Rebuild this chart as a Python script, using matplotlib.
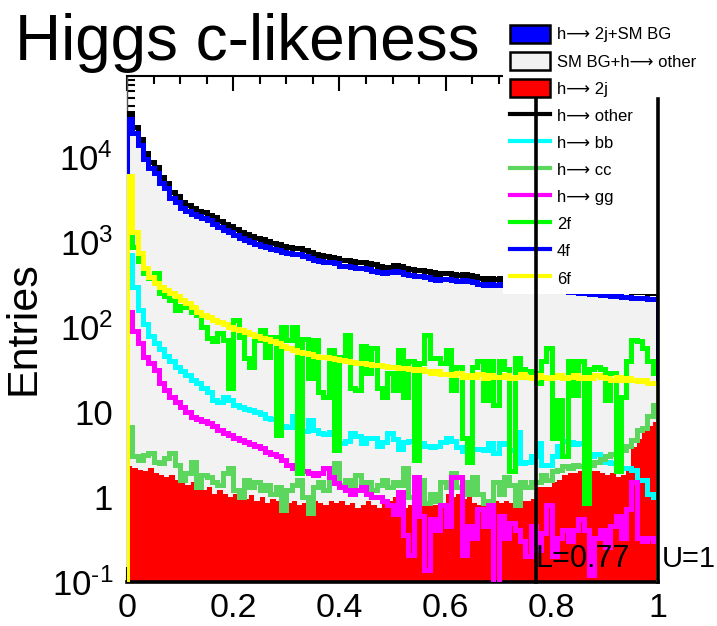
import numpy as np
import matplotlib
matplotlib.use("Agg")
import matplotlib.pyplot as plt
import matplotlib.transforms as mtransforms
from matplotlib.patches import Patch
from matplotlib.lines import Line2D
from matplotlib.ticker import LogLocator, MultipleLocator, NullFormatter

plt.rcParams['font.family'] = ['Liberation Sans', 'DejaVu Sans']
plt.rcParams['mathtext.fontset'] = 'custom'
plt.rcParams['mathtext.rm'] = 'Liberation Sans'

# ---------------------------------------------------------------------
# data: 100 bins of c-likeness in [0, 1], entries per bin
# ---------------------------------------------------------------------
n_bins = 100
cut_low, cut_high = 0.77, 1.0

# h -> 2j + SM BG (blue), 4f dominates it so its line sits on top of this
total = [28000, 19000, 14000, 9500, 7500, 6500, 5000, 4300, 3300, 3000,
         2500, 2300, 2150, 2000, 1900, 1800, 1650, 1500, 1380, 1300,
         1200, 1120, 1050, 1000, 950, 910, 870, 830, 800, 770,
         750, 730, 720, 690, 650, 620, 600, 590, 580, 570,
         530, 520, 510, 500, 490, 480, 460, 450, 430, 440,
         460, 450, 420, 410, 400, 395, 390, 370, 360, 365,
         370, 360, 350, 355, 345, 335, 320, 315, 320, 315,
         320, 310, 305, 300, 298, 295, 290, 285, 282, 280,
         275, 270, 266, 262, 258, 255, 250, 246, 243, 240,
         237, 234, 231, 228, 225, 222, 220, 218, 215, 212]

h_other = [33000, 22500, 16500, 11200, 8800, 7600, 5900, 5000, 3900, 3500,
           2950, 2700, 2500, 2350, 2250, 2100, 1950, 1780, 1620, 1530,
           1420, 1320, 1240, 1190, 1110, 1080, 1020, 980, 950, 900,
           880, 860, 850, 800, 770, 730, 710, 690, 670, 650,
           620, 615, 600, 590, 580, 560, 545, 530, 510, 515,
           540, 530, 500, 480, 475, 465, 455, 440, 425, 430,
           435, 425, 410, 420, 405, 395, 380, 370, 375, 370,
           375, 365, 360, 355, 350, 345, 340, 335, 332, 330,
           325, 318, 313, 308, 304, 300, 295, 290, 286, 283,
           280, 276, 272, 268, 265, 262, 260, 257, 254, 260]

h_2j = [2.3, 2.2, 2.1, 2.0, 2.2, 1.9, 1.8, 1.7, 1.8, 1.6,
        1.5, 1.4, 1.5, 1.3, 1.2, 1.3, 1.1, 1.2, 1.1, 1.0,
        1.1, 1.0, 0.95, 1.05, 0.9, 1.0, 0.85, 0.95, 0.9, 0.8,
        0.85, 0.9, 0.8, 0.85, 0.8, 0.9, 0.85, 0.8, 0.9, 0.85,
        0.9, 0.8, 0.85, 0.75, 0.8, 0.9, 0.8, 0.75, 0.85, 0.9,
        1.0, 1.1, 0.75, 0.8, 0.85, 0.8, 0.85, 0.8, 0.8, 0.85,
        1.1, 1.0, 1.1, 0.95, 1.0, 0.85, 0.8, 0.9, 0.85, 0.9,
        0.85, 0.9, 0.85, 0.9, 0.9, 0.9, 0.95, 1.3, 1.3, 1.3,
        1.5, 1.6, 1.8, 1.9, 1.9, 2.0, 2.1, 2.0, 2.0, 1.9,
        1.8, 1.9, 1.7, 1.8, 2.2, 3.9, 4.8, 6.1, 6.8, 7.6]

h_bb = [700, 300, 160, 110, 78, 65, 55, 46, 40, 34,
        30, 27, 24, 22, 19, 17, 14, 13, 15, 14,
        12, 11.5, 11, 10.5, 10, 9.5, 8.5, 8.2, 7.6, 6.8,
        6.6, 9.0, 6.9, 6.0, 8.0, 6.2, 5.6, 5.5, 5.8, 6.4,
        4.3, 4.6, 5.6, 5.2, 4.3, 5.0, 5.0, 4.0, 4.4, 5.6,
        4.8, 3.7, 4.4, 4.6, 4.3, 4.3, 4.0, 3.9, 4.0, 4.5,
        5.0, 4.6, 3.9, 3.5, 2.7, 3.7, 3.7, 3.6, 4.3, 3.3,
        4.3, 4.2, 3.6, 5.8, 2.5, 2.6, 3.0, 4.3, 2.4, 2.4,
        3.0, 4.0, 4.6, 4.5, 4.2, 4.3, 3.3, 3.0, 3.2, 2.8,
        2.6, 2.5, 2.7, 2.2, 2.2, 2.1, 1.6, 1.6, 1.1, 1.0]

h_cc = [6.6, 3.0, 2.7, 3.1, 3.3, 2.6, 2.5, 2.9, 3.3, 2.4,
        1.6, 1.9, 2.6, 1.3, 1.8, 1.7, 1.5, 1.4, 1.9, 2.2,
        1.2, 1.0, 1.6, 1.3, 1.5, 1.2, 1.4, 1.1, 1.3, 0.7,
        1.2, 1.4, 1.6, 1.0, 0.65, 1.3, 1.5, 1.2, 1.7, 2.5,
        1.4, 1.6, 1.1, 1.8, 1.3, 1.5, 1.2, 1.4, 1.6, 1.3,
        1.5, 1.4, 2.2, 1.0, 0.8, 1.6, 0.85, 1.1, 0.9, 1.5,
        1.3, 1.9, 1.3, 1.5, 1.1, 1.7, 1.1, 0.85, 0.9, 1.5,
        1.1, 1.7, 1.4, 0.8, 1.5, 1.3, 1.5, 1.5, 1.8, 1.6,
        2.0, 2.1, 2.3, 2.2, 2.4, 2.3, 2.5, 2.4, 2.6, 2.8,
        3.0, 3.2, 3.4, 3.6, 4.0, 4.7, 6.1, 6.5, 9.0, 12]

# empty bins are written as 0.05 (below the axis)
h_gg = [150, 90, 65, 45, 38, 31, 22, 18, 15, 13,
        11.5, 10, 8.7, 8.2, 7.8, 7.4, 6.8, 6.2, 5.6, 5.4,
        5.0, 4.7, 4.4, 4.2, 4.0, 3.8, 3.4, 3.2, 3.0, 2.7,
        2.4, 2.2, 2.1, 2.0, 1.9, 1.8, 1.9, 2.2, 1.7, 1.45,
        1.3, 1.2, 1.1, 1.2, 1.3, 1.1, 1.0, 1.0, 0.9, 0.8,
        0.63, 1.14, 0.36, 0.21, 1.7, 0.6, 0.14, 0.55, 0.41, 0.8,
        0.45, 1.7, 1.7, 0.21, 0.45, 0.33, 0.72, 0.45, 0.8, 0.05,
        0.6, 0.33, 0.5, 0.41, 0.3, 0.2, 0.45, 0.24, 0.38, 0.8,
        0.2, 0.33, 0.41, 0.3, 0.41, 0.55, 0.41, 0.12, 0.33, 0.41,
        0.26, 0.45, 0.6, 0.33, 0.72, 1.5, 0.33, 0.3, 0.33, 0.3]

bg_2f = [1300, 870, 600, 430, 380, 430, 250, 230, 210, 160,
         175, 170, 150, 140, 100, 75, 68, 85, 70, 19,
         120, 76, 43, 34, 70, 92, 44, 76, 5.3, 100,
         70, 100, 1.9, 72, 25, 70, 17, 15, 53, 3.6,
         44, 80, 19, 18, 60, 29, 56, 19, 15, 29,
         18, 53, 15, 40, 2.7, 38, 80, 43, 43, 38,
         53, 18, 34, 5.0, 2.6, 34, 40, 14, 40, 12,
         40, 32, 2.0, 43, 32, 30, 29, 22, 40, 56,
         5.0, 14, 3.0, 40, 16, 40, 0.85, 32, 34, 32,
         14, 29, 2.0, 15, 40, 70, 68, 56, 40, 29]

bg_6f = [6000, 1300, 740, 500, 390, 330, 295, 270, 250, 230,
         210, 190, 170, 150, 140, 130, 122, 115, 110, 100,
         95, 92, 88, 82, 78, 75, 72, 68, 65, 60,
         56, 53, 51, 50, 48, 46, 45, 44, 43, 42,
         41, 40, 39, 38, 38, 37, 36, 36, 35, 34,
         34, 33, 33, 32, 31, 32, 30, 29, 30, 28,
         28, 27, 29, 26, 27, 26, 28, 25, 27, 26,
         26, 27, 25, 26, 28, 26, 25, 27, 26, 25,
         26, 27, 25, 26, 27, 25, 26, 25, 27, 26,
         25, 24, 26, 24, 25, 24, 23, 24, 22, 22]

y_ticks = [0.1, 1, 10, 100, 1e3, 1e4]
y_tick_labels = [r'$\mathregular{10^{\text{-}1}}$', '1', '10',
                 r'$\mathregular{10^{2}}$', r'$\mathregular{10^{3}}$',
                 r'$\mathregular{10^{4}}$']
x_ticks = [0, 0.2, 0.4, 0.6, 0.8, 1.0]
x_tick_labels = ['0', '0.2', '0.4', '0.6', '0.8', '1']

# ---------------------------------------------------------------------
# plot
# ---------------------------------------------------------------------
W, H = 717, 626
fig = plt.figure(figsize=(W / 100, H / 100), dpi=100)
ax = fig.add_axes([127 / W, 44 / H, 531 / W, 506 / H])

edges = np.linspace(0, 1, n_bins + 1)
total = np.array(total, dtype=float)
h_2j = np.array(h_2j, dtype=float)
base = 1e-3

GREY = '#f2f2f2'
CC_GREEN = '#5cd65c'

# stacked fills
ax.stairs(total, edges, fill=True, color='blue', baseline=base, zorder=1)
ax.stairs(total - h_2j, edges, fill=True, color=GREY, baseline=base, zorder=1.1)
ax.stairs(h_2j, edges, fill=True, color='red', baseline=base, zorder=1.2)

# component lines
lw = 3.6
line_series = [
    (h_other, 'black'),
    (h_bb, 'cyan'),
    (h_cc, CC_GREEN),
    (h_gg, 'magenta'),
    (bg_2f, '#00ff00'),
    (total, 'blue'),      # 4f
    (bg_6f, 'yellow'),
]
for k, (vals, col) in enumerate(line_series):
    ax.stairs(vals, edges, fill=False, edgecolor=col, linewidth=lw,
              baseline=base, zorder=3 + k * 0.1)

ax.set_yscale('log')
ax.set_xlim(0, 1)
ax.set_ylim(0.1, 9e4)

ax.set_yticks(y_ticks, labels=y_tick_labels)
ax.yaxis.set_minor_locator(LogLocator(base=10, subs=np.arange(2, 10), numticks=20))
ax.yaxis.set_minor_formatter(NullFormatter())
ax.set_xticks(x_ticks, labels=x_tick_labels)
ax.xaxis.set_minor_locator(MultipleLocator(0.05))

ax.set_axisbelow(True)
ax.tick_params(which='both', direction='in', top=True, right=True, colors='black')
ax.tick_params(which='major', length=11, width=1.5)
ax.tick_params(which='minor', length=5.5, width=1.5)
ax.tick_params(axis='x', labelsize=24.5, pad=8)
ax.tick_params(axis='y', labelsize=25, pad=10)

ax.spines['bottom'].set_linewidth(2.6)
ax.spines['top'].set_linewidth(1.5)
ax.spines['right'].set_linewidth(1.5)
ax.spines['left'].set_linewidth(1.0)
ax.spines['left'].set_color('#555555')

# cut lines
for xc in (cut_low, cut_high):
    ax.axvline(xc, ymin=0, ymax=0.955, color='black', lw=2.6, zorder=7, clip_on=False)
blend = mtransforms.blended_transform_factory(ax.transData, ax.transAxes)
ax.text(cut_low, 0.03, f'L={cut_low:g}', transform=blend, fontsize=22,
        ha='left', va='baseline', zorder=8)
ax.text(cut_high + 0.007, 0.03, f'U={cut_high:g}', transform=blend, fontsize=21,
        ha='left', va='baseline', zorder=8, clip_on=False)

# legend
arrow = '\u27f6'
handles = [
    Patch(facecolor='blue', edgecolor='black', linewidth=1.8, label=f'h{arrow} 2j+SM BG'),
    Patch(facecolor=GREY, edgecolor='black', linewidth=1.8, label=f'SM BG+h{arrow} other'),
    Patch(facecolor='red', edgecolor='black', linewidth=1.8, label=f'h{arrow} 2j'),
    Line2D([], [], color='black', lw=3, label=f'h{arrow} other'),
    Line2D([], [], color='cyan', lw=3, label=f'h{arrow} bb'),
    Line2D([], [], color=CC_GREEN, lw=3, label=f'h{arrow} cc'),
    Line2D([], [], color='magenta', lw=3, label=f'h{arrow} gg'),
    Line2D([], [], color='#00ff00', lw=3, label='2f'),
    Line2D([], [], color='blue', lw=3, label='4f'),
    Line2D([], [], color='yellow', lw=3, label='6f'),
]
leg = ax.legend(handles=handles, loc='upper left',
                bbox_to_anchor=(503 / W, 1 - 18 / H), bbox_transform=fig.transFigure,
                borderaxespad=0, borderpad=0.42, fontsize=12,
                handlelength=2.4, handleheight=1.25, handletextpad=0.4,
                labelspacing=0.57, frameon=True, fancybox=False)
leg.get_frame().set_facecolor('white')
leg.get_frame().set_edgecolor('none')
leg.get_frame().set_alpha(1)

fig.text(15 / W, 1 - 60 / H, 'Higgs c-likeness', fontsize=46, ha='left', va='baseline')
fig.text(23 / W, 1 - 328 / H, 'Entries', fontsize=31, rotation=90, ha='center', va='center')

fig.savefig('out.png', dpi=100)
